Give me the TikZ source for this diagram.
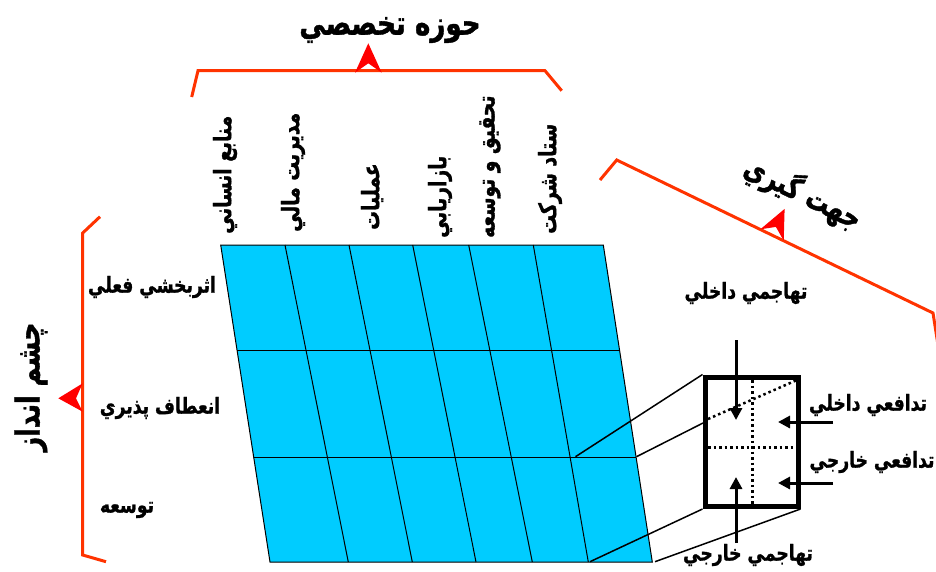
\documentclass[tikz,border=0pt]{standalone}
\usepackage{fontspec}
\usetikzlibrary{arrows.meta,calc}
\TeXXeTstate=1
\newfontfamily\arabicfont[Script=Arabic,FakeStretch=0.78,BoldFeatures={FakeBold=1.2}]{DejaVu Sans}
\definecolor{bracketc}{HTML}{FF3300}
\definecolor{tipc}{HTML}{FF0000}
\definecolor{cellc}{HTML}{00CCFF}
\newcommand{\ar}[1]{\arabicfont\bfseries\beginR #1\endR}
\begin{document}
\begin{tikzpicture}[x=1pt,y=-1pt,
  lbl/.style={inner sep=0pt,font=\fontsize{22}{24}\selectfont},
  collbl/.style={inner sep=0pt,rotate=90,anchor=west,font=\fontsize{24}{26}\selectfont},
  biglbl/.style={inner sep=0pt,font=\fontsize{33.5}{36}\selectfont},
  bracket/.style={draw=bracketc,line width=3pt},
  gridline/.style={draw=black,line width=1pt},
  boxline/.style={draw=black,line width=5pt},
  dotline/.style={draw=black,line width=2.5pt,dash pattern=on 2.5pt off 3pt},
  linkline/.style={draw=black,line width=1.5pt},
  arr/.style={draw=black,line width=3pt,-{Triangle[length=12pt,width=12pt]}}]
\useasboundingbox (0,0) rectangle (936,571);

% grid coordinates
\foreach \i/\xt/\xb in {0/220.7/270,1/285/348.3,2/349/412.3,3/412.7/476,4/468.7/532.3,5/533.3/588.3,6/603.3/652.3}{
  \coordinate (t\i) at (\xt,245);
  \coordinate (b\i) at (\xb,562);
}
\fill[cellc] (t0) -- (t6) -- (b6) -- (b0) -- cycle;
\foreach \i in {1,...,5}{\draw[gridline] (t\i) -- (b\i);}
\draw[gridline] ($(t0)!0.334!(b0)$) -- ($(t6)!0.334!(b6)$);
\draw[gridline] ($(t0)!0.669!(b0)$) -- ($(t6)!0.669!(b6)$);
\draw[gridline] (t0) -- (t6) -- (b6) -- (b0) -- cycle;

% zoom box
\node[boxline,minimum width=93pt,minimum height=129.5pt,inner sep=0pt] (box) at (751.5,441.75) {};
\coordinate (l1) at (575.5,456.7);
\coordinate (l2) at (636.5,456.7);
\coordinate (l3) at (590,561.7);
\coordinate (l4) at (655,561.7);
\coordinate (bl) at (703,423);
\draw[linkline] (l1) -- (box.north west);
\draw[linkline] (l2) -- (bl);
\draw[linkline] (l3) -- (box.south west);
\draw[linkline] (l4) -- (box.south east);
\node[boxline,minimum width=93pt,minimum height=129.5pt,inner sep=0pt] at (751.5,441.75) {};

% dotted lines in box
\coordinate (dv1) at (752.3,380);
\coordinate (dv2) at (752.3,504);
\coordinate (dh1) at (708,447.3);
\coordinate (dh2) at (796,447.3);
\coordinate (dd1) at (708,419);
\coordinate (dd2) at (797,380);
\draw[dotline] (dv1) -- (dv2);
\draw[dotline] (dh1) -- (dh2);
\draw[dotline] (dd1) -- (dd2);

% arrows
\coordinate (a1s) at (736,340); \coordinate (a1e) at (736,420);
\coordinate (a2s) at (736,543); \coordinate (a2e) at (736,477);
\coordinate (a3s) at (833,422); \coordinate (a3e) at (778,422);
\coordinate (a4s) at (833,483); \coordinate (a4e) at (778,483);
\draw[arr] (a1s) -- (a1e);
\draw[arr] (a2s) -- (a2e);
\draw[arr] (a3s) -- (a3e);
\draw[arr] (a4s) -- (a4e);

% box labels
\node[lbl] (hd) at (746,293) {\ar{تهاجمي داخلي}};
\node[lbl] (td) at (868,405) {\ar{تدافعي داخلي}};
\node[lbl] (tk) at (872,462) {\ar{تدافعي خارجي}};
\node[lbl] (hk) at (748,555) {\ar{تهاجمي خارجي}};

% row labels
\node[lbl] (r1) at (152,287) {\ar{اثربخشي فعلي}};
\node[lbl] (r2) at (160,408) {\ar{انعطاف پذيري}};
\node[lbl] (r3) at (127,510) {\ar{توسعه}};

% column labels
\node[collbl] (c1) at (225,234) {\ar{منابع انساني}};
\node[collbl] (c2) at (293,232) {\ar{مديريت مالي}};
\node[collbl] (c3) at (372,230) {\ar{عمليات}};
\node[collbl] (c4) at (440,238) {\ar{بازاريابي}};
\node[collbl] (c5) at (490,238) {\ar{تحقيق و توسعه}};
\node[collbl] (c6) at (550,234) {\ar{ستاد شركت}};

% top bracket
\draw[bracket] (191.7,97) -- (198,70.7) -- (545,70.7) -- (561.7,90.7);
\fill[tipc] (368.3,43.3) -- (381.7,72.7) -- (368.3,63.3) -- (355,72.7) -- cycle;
\node[biglbl] (t) at (390,30) {\ar{حوزه تخصصي}};

% left bracket
\draw[bracket] (100,216.7) -- (82.7,233) -- (82.7,555) -- (106,561.7);
\fill[tipc] (58.3,398.3) -- (82.7,383.3) -- (76,398.3) -- (82.7,411.7) -- cycle;
\node[biglbl,font=\fontsize{32.5}{35}\selectfont,rotate=90] (l) at (31,387) {\ar{چشم انداز}};

% right bracket
\draw[bracket] (600,180) -- (616.7,160) -- (933,313) -- (938,345);
\fill[tipc] (784.6,208.9) -- (783.7,240.7) -- (775.9,226.9) -- (760.3,229.3) -- cycle;
\node[biglbl,font=\fontsize{30.5}{33}\selectfont,rotate=-26] (r) at (803,193) {\ar{جهت گيري}};
\end{tikzpicture}
\end{document}
